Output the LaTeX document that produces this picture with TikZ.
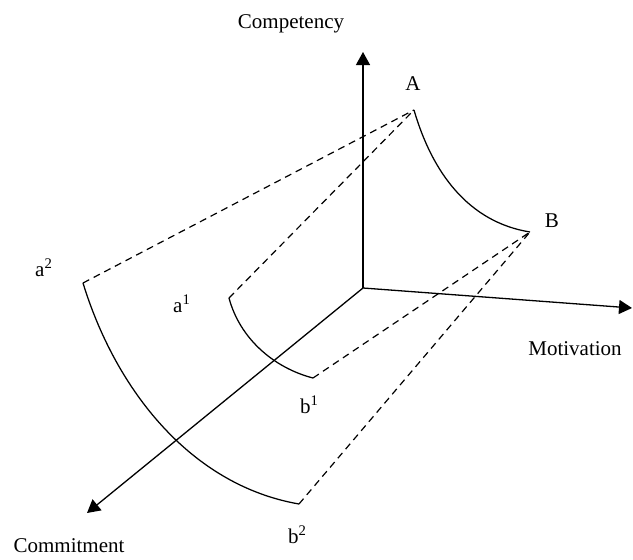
\documentclass[tikz,border=0pt]{standalone}
\usepackage{fontspec}
\setmainfont{Liberation Serif}
\usetikzlibrary{arrows.meta}
\begin{document}
\begin{tikzpicture}[x=1pt,y=-1pt,
  axis/.style={line width=1.3pt,-{Triangle[length=13pt,width=14pt]}},
  curve/.style={line width=1.25pt},
  dashline/.style={line width=1.2pt,dash pattern=on 7pt off 5pt},
  lab/.style={inner sep=0pt,anchor=base,font=\fontsize{21}{25}\selectfont},
  labw/.style={inner sep=0pt,anchor=base west,font=\fontsize{21}{25}\selectfont}]
\useasboundingbox (0,0) rectangle (633,560);
% key points
\coordinate (O) at (363,288);
\coordinate (Ctip) at (363,52);
\coordinate (Mtip) at (632,308);
\coordinate (Ktip) at (87,513);
\coordinate (A) at (414,110);
\coordinate (B) at (530,232);
\coordinate (a2) at (83,283);
\coordinate (b2) at (299,504);
\coordinate (a1) at (229,298);
\coordinate (b1) at (313,378);
% axes
\draw[axis] (O) -- (Ctip);
\draw[axis] (O) -- (Mtip);
\draw[axis] (O) -- (Ktip);
% arcs
\draw[curve] (A) .. controls (432,172) and (468,222) .. (B);
\draw[curve] (a2) .. controls (115.5,389) and (190,485) .. (b2);
\draw[curve] (a1) .. controls (239.7,338) and (273,367.6) .. (b1);
% dashed lines
\draw[dashline] (a2) -- (A);
\draw[dashline] (a1) -- (A);
\draw[dashline] (b1) -- (B);
\draw[dashline] (b2) -- (B);
% labels
\node[lab] (lC) at (291,28) {Competency};
\node[lab] (lM) at (575,355) {Motivation};
\node[lab] (lK) at (69,552) {Commitment};
\node[lab] (lA) at (413,90) {A};
\node[lab] (lB) at (552,227) {B};
\node[labw] (la2) at (35,276) {a\textsuperscript{2}};
\node[labw] (la1) at (173,312) {a\textsuperscript{1}};
\node[labw] (lb1) at (300,413) {b\textsuperscript{1}};
\node[labw] (lb2) at (288,543) {b\textsuperscript{2}};
\end{tikzpicture}
\end{document}
